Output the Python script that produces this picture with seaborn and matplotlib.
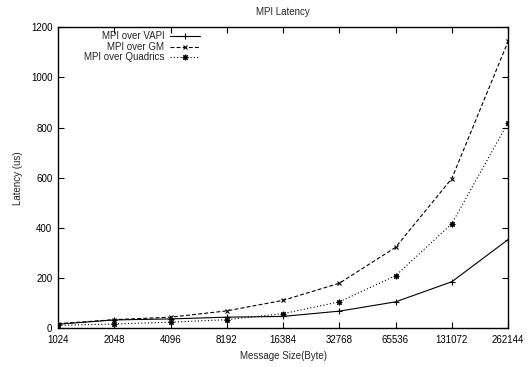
import matplotlib
matplotlib.use("Agg")
import matplotlib.pyplot as plt
import seaborn as sns
import pandas as pd

# Message sizes in bytes and measured latencies (us)
sizes = [1024, 2048, 4096, 8192, 16384, 32768, 65536, 131072, 262144]
vapi = [17, 34, 38, 45, 48, 69, 106, 186, 354]
gm = [19, 35, 45, 70, 112, 180, 323, 597, 1143]
quadrics = [12, 18, 25, 35, 59, 106, 210, 417, 820]

series_names = ["MPI over VAPI", "MPI over GM", "MPI over Quadrics"]
series_values = [vapi, gm, quadrics]
y_ticks = [0, 200, 400, 600, 800, 1000, 1200]

sns.set_style("ticks")
plt.rcParams["font.family"] = ["Liberation Sans", "DejaVu Sans"]
plt.rcParams["font.size"] = 7

fig = plt.figure(figsize=(5.32, 3.67), dpi=100)
ax = fig.add_axes([0.109, 0.105, 0.846, 0.821])

styles = [
    dict(linestyle="-", marker="+", markersize=4),
    dict(linestyle=(0, (3.5, 2.0)), marker="x", markersize=3.2),
    dict(linestyle=(0, (1.0, 2.0)), marker=(8, 2, 0), markersize=4),
]

for name, vals, st in zip(series_names, series_values, styles):
    df = pd.DataFrame({"size": sizes, "latency": vals})
    sns.lineplot(data=df, x="size", y="latency", ax=ax, color="black",
                 linewidth=0.8, markeredgewidth=0.8, markeredgecolor="black",
                 markerfacecolor="black", label=name, **st)

ax.set_xscale("log", base=2)
ax.set_xlim(sizes[0], sizes[-1])
ax.set_ylim(0, 1200)
ax.set_xticks(sizes)
ax.set_xticklabels([str(s) for s in sizes])
ax.minorticks_off()
ax.set_yticks(y_ticks)
ax.set_yticklabels([str(t) for t in y_ticks])

for sp in ax.spines.values():
    sp.set_visible(True)
    sp.set_linewidth(1.0)
    sp.set_color("black")

ax.tick_params(axis="both", which="major", direction="in", length=4, width=0.8,
               top=True, right=True, labelsize=7, colors="black")
ax.tick_params(axis="x", pad=5)
ax.tick_params(axis="y", pad=4)

ax.set_xlabel("Message Size(Byte)", fontsize=7, labelpad=4)
ax.set_ylabel("Latency (us)", fontsize=7, labelpad=6)
ax.set_title("MPI Latency", fontsize=7, pad=9)

leg = ax.legend(loc="upper left", bbox_to_anchor=(0.045, 1.005), markerfirst=False,
                frameon=False, fontsize=7, handlelength=3.1, handletextpad=0.6,
                labelspacing=0.05, borderaxespad=0.2)
leg._legend_box.align = "right"

fig.savefig("out.png", dpi=100)
